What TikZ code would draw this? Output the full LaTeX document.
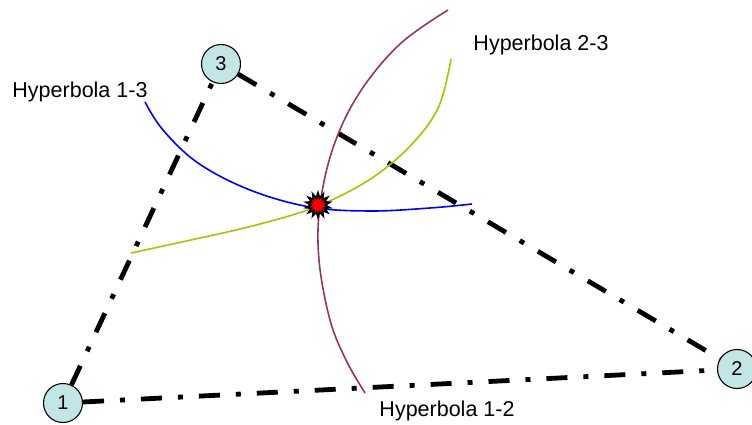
\documentclass[tikz,border=0pt]{standalone}
\usepackage{fontspec}
\setmainfont{Liberation Sans}
\usepackage{xcolor}
\usetikzlibrary{shapes.geometric}
\definecolor{stationFill}{HTML}{C2E6E6}
\definecolor{hypOneTwo}{HTML}{993366}
\definecolor{hypTwoThree}{HTML}{99CC00}
\definecolor{hypOneThree}{HTML}{0000FF}

\tikzset{
    station/.style={circle, draw, fill=stationFill, line width=1.1pt, minimum size=39pt,
        inner sep=0pt, font=\fontsize{20}{22}\selectfont},
    baseline/.style={line width=4.8pt, dash pattern=on 21pt off 16pt on 5pt off 16pt},
    hyp/.style={line width=1.6pt},
    hyplabel/.style={font=\fontsize{21.5}{24}\selectfont}
}

\begin{document}
\begin{tikzpicture}[x=1pt, y=-1pt]
    \useasboundingbox (0,0) rectangle (752,425);

    \node[station] (s1) at (63,403) {1};
    \node[station] (s2) at (737,369) {2};
    \node[station] (s3) at (221,64) {3};

    \draw[baseline] (s1) -- (s3);
    \draw[baseline] (s3) -- (s2);
    \draw[baseline] (s1) -- (s2);

    \draw[hyp, hypOneThree] plot[smooth, tension=0.6] coordinates
        {(145,102) (163,130) (198,163) (250,190) (310,207) (370,211) (430,208) (472,204)};
    \draw[hyp, hypTwoThree] plot[smooth, tension=0.6] coordinates
        {(131,253) (200,238) (260,224) (318,206) (372,178) (413,143) (439,106) (451,59)};
    \draw[hyp, hypOneTwo] plot[smooth, tension=0.6] coordinates
        {(448,10) (400,44) (360,92) (334,145) (320,205) (319,260) (330,320) (346,360) (365,393)};

    \node[star, star points=14, star point ratio=1.7, fill=red, draw=black, line width=1.8pt,
        minimum size=24pt, inner sep=0pt] (fix) at (318,205) {};

    \node[hyplabel] (lbl13) at (80,92) {Hyperbola 1-3};
    \node[hyplabel] (lbl23) at (541,45) {Hyperbola 2-3};
    \node[hyplabel] (lbl12) at (447,411) {Hyperbola 1-2};
\end{tikzpicture}
\end{document}
